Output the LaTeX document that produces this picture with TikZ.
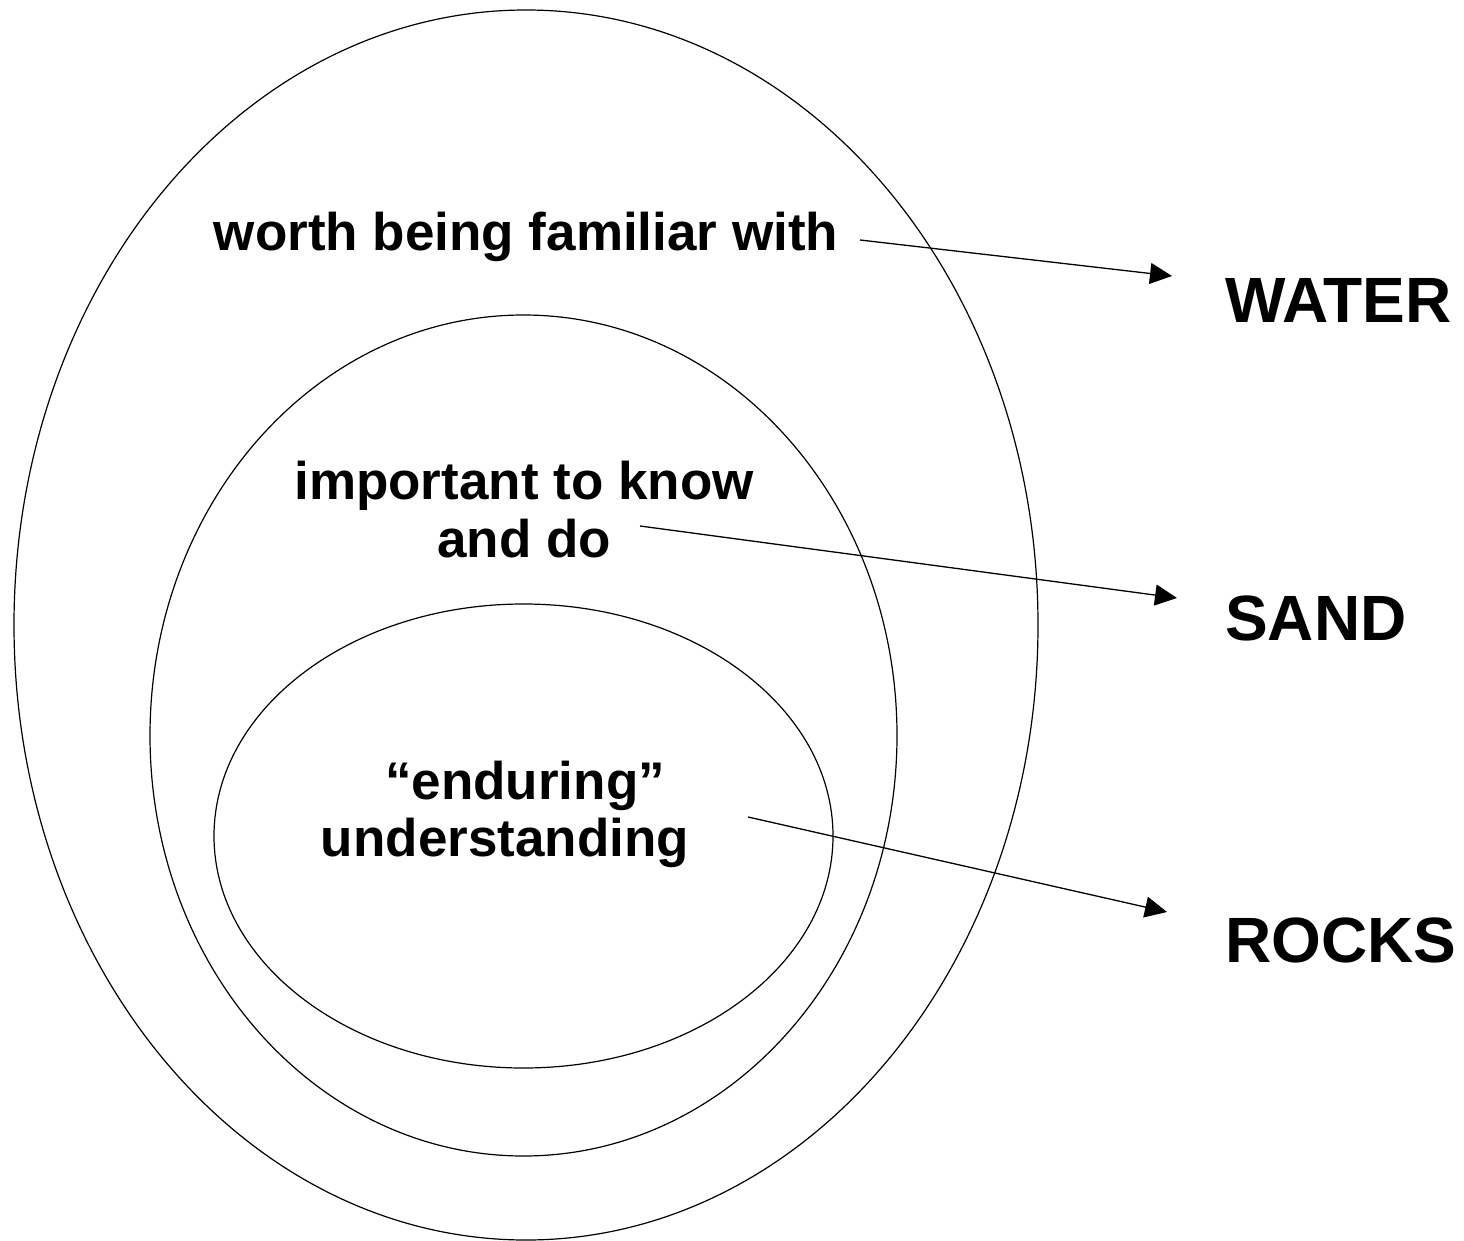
\documentclass[tikz,border=0pt]{standalone}
\usepackage{fontspec}
\setmainfont{Liberation Sans}
\usetikzlibrary{shapes.geometric,arrows.meta}
\begin{document}
\begin{tikzpicture}[x=1pt,y=-1pt,
  ring/.style={draw=black,line width=1.2pt,ellipse,inner sep=0pt},
  lbl/.style={font=\fontsize{53}{58}\selectfont\bfseries,inner sep=0pt,anchor=base},
  big/.style={font=\fontsize{64}{70}\selectfont\bfseries,inner sep=0pt,anchor=base west},
  pointer/.style={line width=1.3pt,-{Triangle[length=22pt,width=21pt]}}]
\useasboundingbox (0,0) rectangle (1464,1241);
\node[ring,minimum width=1024pt,minimum height=1230pt] (outer) at (526,625) {};
\node[ring,minimum width=747pt,minimum height=841pt] (middle) at (523.5,735.5) {};
\node[ring,minimum width=619pt,minimum height=464pt] (inner) at (523.5,836) {};
\node[lbl] (t1) at (526,251) {worth being familiar with};
\node[lbl] (t2a) at (524,499) {important to know};
\node[lbl] (t2b) at (524,557) {and do};
\node[lbl] (t3a) at (525,799) {“enduring”};
\node[lbl] (t3b) at (505,856) {understanding};
\node[big] (water) at (1225,322) {WATER};
\node[big] (sand) at (1225,640) {SAND};
\node[big] (rocks) at (1225,962) {ROCKS};
\coordinate (s1) at (860,240);
\coordinate (e1) at (1172,276);
\coordinate (s2) at (640,526);
\coordinate (e2) at (1177,598);
\coordinate (s3) at (748,817);
\coordinate (e3) at (1167,912);
\draw[pointer] (s1) -- (e1);
\draw[pointer] (s2) -- (e2);
\draw[pointer] (s3) -- (e3);
\end{tikzpicture}
\end{document}
